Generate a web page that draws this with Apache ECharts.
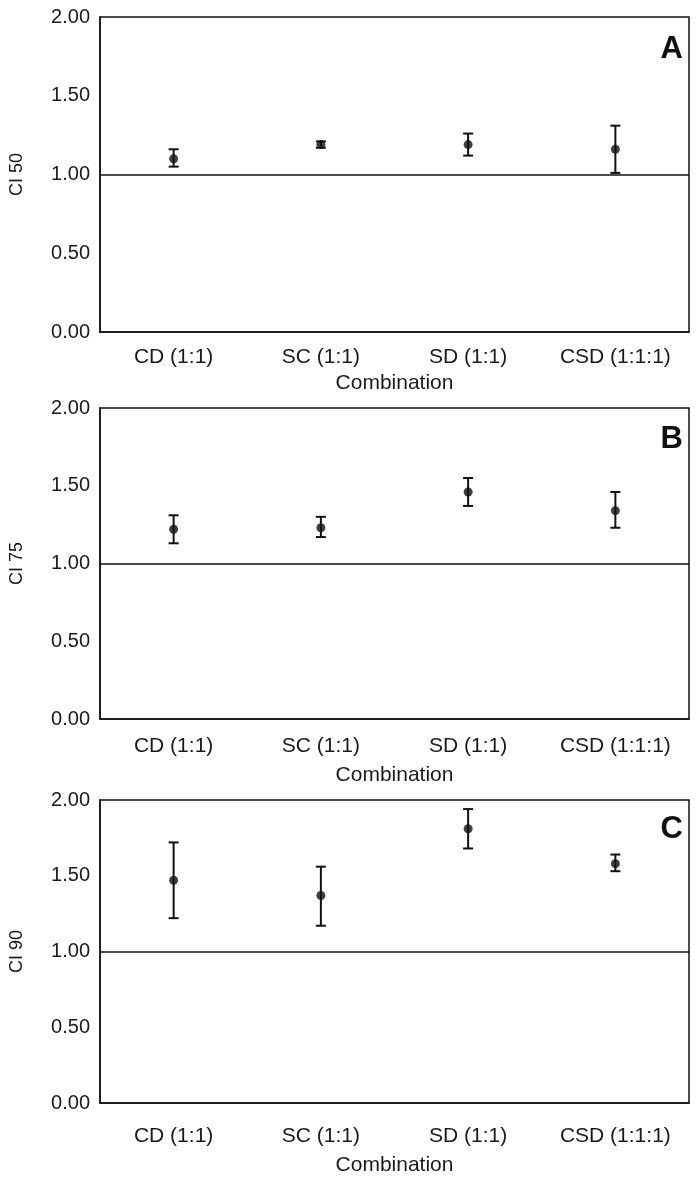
<!DOCTYPE html>
<html>
<head>
<meta charset="utf-8">
<script src="https://cdn.jsdelivr.net/npm/echarts@6/dist/echarts.min.js"></script>
<style>
html,body{margin:0;padding:0;background:#fff;}
#chart{width:698px;height:1178px;}
</style>
</head>
<body>
<div id="chart"></div>
<script>
const categories = ['CD (1:1)', 'SC (1:1)', 'SD (1:1)', 'CSD (1:1:1)'];
const yTicks = [0, 0.5, 1, 1.5, 2];

const ci50Mean = [1.10, 1.19, 1.19, 1.16];
const ci50Low  = [1.05, 1.17, 1.12, 1.01];
const ci50High = [1.16, 1.21, 1.26, 1.31];

const ci75Mean = [1.22, 1.23, 1.46, 1.34];
const ci75Low  = [1.13, 1.17, 1.37, 1.23];
const ci75High = [1.31, 1.30, 1.55, 1.46];

const ci90Mean = [1.47, 1.37, 1.81, 1.58];
const ci90Low  = [1.22, 1.17, 1.68, 1.53];
const ci90High = [1.72, 1.56, 1.94, 1.64];

const panels = [
  {name: 'CI 50', letter: 'A', mean: ci50Mean, low: ci50Low, high: ci50High},
  {name: 'CI 75', letter: 'B', mean: ci75Mean, low: ci75Low, high: ci75High},
  {name: 'CI 90', letter: 'C', mean: ci90Mean, low: ci90Low, high: ci90High}
];
const refLine = 1.0;

const FONT = 'Arial, "Liberation Sans", sans-serif';
const TXT = '#1a1a1a';
const layout = [
  {top: 17, height: 315, labelMargin: 15, nameGap: 41, letterY: 46},
  {top: 408, height: 311, labelMargin: 17, nameGap: 46, letterY: 436},
  {top: 800, height: 303, labelMargin: 23, nameGap: 52, letterY: 826}
];

const chart = echarts.init(document.getElementById('chart'), null, {renderer: 'canvas'});

const grid = [], xAxis = [], yAxis = [], series = [], title = [];
panels.forEach((p, i) => {
  const L = layout[i];
  grid.push({left: 100, width: 589, top: L.top, height: L.height, show: true,
    borderColor: '#111', borderWidth: 1.5, backgroundColor: '#fff'});
  xAxis.push({
    type: 'category', gridIndex: i, data: categories, boundaryGap: true,
    axisLine: {show: true, lineStyle: {color: '#111', width: 1.5}},
    axisTick: {show: false},
    axisLabel: {color: TXT, fontSize: 21, fontFamily: FONT, margin: L.labelMargin, interval: 0},
    name: 'Combination', nameLocation: 'middle', nameGap: L.nameGap,
    nameTextStyle: {color: TXT, fontSize: 21, fontFamily: FONT},
    splitLine: {show: false}
  });
  yAxis.push({
    type: 'value', gridIndex: i, min: yTicks[0], max: yTicks[yTicks.length - 1], interval: 0.5,
    axisLine: {show: true, lineStyle: {color: '#111', width: 1.5}},
    axisTick: {show: false},
    splitLine: {show: false},
    axisLabel: {color: TXT, fontSize: 20, fontFamily: FONT, margin: 10,
      formatter: v => v.toFixed(2)},
    name: p.name, nameLocation: 'middle', nameGap: 74, nameRotate: 90,
    nameTextStyle: {color: TXT, fontSize: 18, fontFamily: FONT}
  });
  const errData = categories.map((c, k) => [k, p.low[k], p.high[k]]);
  series.push({
    type: 'custom', xAxisIndex: i, yAxisIndex: i, data: errData,
    renderItem: function (params, api) {
      const x = api.value(0);
      const lo = api.coord([x, api.value(1)]);
      const hi = api.coord([x, api.value(2)]);
      const w = 5;
      const st = {stroke: '#111', lineWidth: 2};
      return {type: 'group', children: [
        {type: 'line', shape: {x1: lo[0], y1: lo[1], x2: hi[0], y2: hi[1]}, style: st},
        {type: 'line', shape: {x1: lo[0] - w, y1: lo[1], x2: lo[0] + w, y2: lo[1]}, style: st},
        {type: 'line', shape: {x1: hi[0] - w, y1: hi[1], x2: hi[0] + w, y2: hi[1]}, style: st}
      ]};
    },
    z: 3, silent: true,
    markLine: {
      silent: true, symbol: ['none', 'none'], label: {show: false},
      lineStyle: {color: '#111', width: 1.5, type: 'solid'},
      data: [{yAxis: refLine}]
    }
  });
  series.push({
    type: 'scatter', xAxisIndex: i, yAxisIndex: i,
    data: categories.map((c, k) => [k, p.mean[k]]),
    symbol: 'circle', symbolSize: 9,
    itemStyle: {color: '#111'}, z: 4, silent: true
  });
  title.push({
    text: p.letter, right: 10, top: L.letterY - 17,
    textStyle: {fontSize: 31, fontWeight: 'bold', color: '#111', fontFamily: FONT}
  });
});

chart.setOption({
  animation: false,
  backgroundColor: '#fff',
  title: title,
  grid: grid,
  xAxis: xAxis,
  yAxis: yAxis,
  series: series
});
</script>
</body>
</html>
